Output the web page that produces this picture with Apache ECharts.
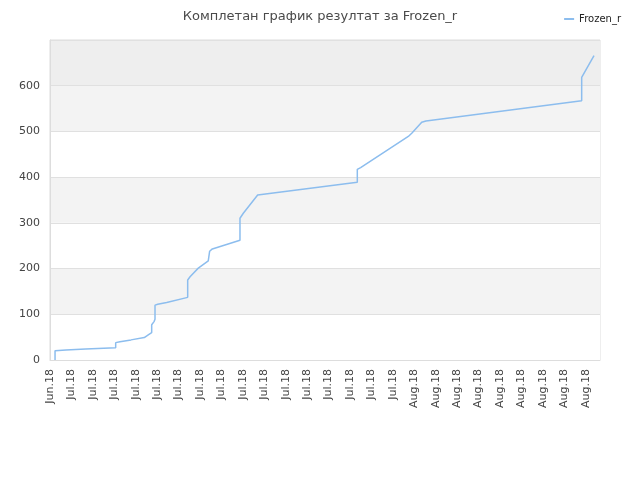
<!DOCTYPE html>
<html>
<head>
<meta charset="utf-8">
<script src="https://cdn.jsdelivr.net/npm/echarts@6/dist/echarts.min.js"></script>
<style>html,body{margin:0;padding:0;background:#fff}#c{width:640px;height:480px}</style>
</head>
<body>
<div id="c"></div>
<script>
// x tick labels (every 2 days starting Jun 29, 2018)
var tickLabels = ["Jun.18","Jul.18","Jul.18","Jul.18","Jul.18","Jul.18","Jul.18","Jul.18","Jul.18","Jul.18","Jul.18","Jul.18","Jul.18","Jul.18","Jul.18","Jul.18","Jul.18","Aug.18","Aug.18","Aug.18","Aug.18","Aug.18","Aug.18","Aug.18","Aug.18","Aug.18"];
// days since first tick
var days = [0.47,0.47,1.49,3.33,6.13,6.13,6.53,7.56,8.80,9.17,9.49,9.49,9.71,9.80,9.80,10.05,10.89,12.85,12.85,13.07,13.84,14.77,14.90,15.15,17.73,17.73,18.04,19.38,28.68,28.68,28.99,33.44,33.76,34.69,35.09,49.62,49.62,49.77,50.77];
var scores = [0,20,22,24,27,38,40,44,49,55,60,77,84,89,120,122,126,137,175,182,201,217,238,243,262,310,321,361,389,417,421,489,496,520,523,567,618,622,666];
var seriesName = "Frozen_r";

var data = days.map(function(d, i){ return [d, scores[i]]; });
var chart = echarts.init(document.getElementById('c'));
chart.setOption({
  animation: false,
  backgroundColor: '#fff',
  title: {
    text: 'Комплетан график резултат за Frozen_r',
    left: 'center', top: 5,
    textStyle: {fontFamily: 'DejaVu Sans', fontSize: 13, fontWeight: 'normal', color: '#4a4a4a'}
  },
  legend: {
    right: 14, top: 9,
    itemWidth: 10, itemHeight: 2, itemGap: 5,
    icon: 'rect',
    textStyle: {fontFamily: 'DejaVu Sans', fontSize: 10, color: '#222'},
    data: [seriesName]
  },
  grid: {left: 50, right: 40, top: 40, bottom: 120, show: true, borderColor: '#ddd', borderWidth: 1},
  xAxis: {
    type: 'value', min: 0, max: 51.33, interval: 2,
    axisLine: {show: true, lineStyle: {color: '#ddd'}},
    axisTick: {show: false},
    splitLine: {show: false},
    axisLabel: {
      rotate: 90, fontFamily: 'DejaVu Sans', fontSize: 11, color: '#444', margin: 9,
      showMaxLabel: false,
      formatter: function(v){ var i = Math.round(v/2); return (Math.abs(v - i*2) < 1e-6 && tickLabels[i]) ? tickLabels[i] : ''; }
    }
  },
  yAxis: {
    type: 'value', min: 0, max: 700, interval: 100,
    axisLine: {show: true, lineStyle: {color: '#ddd'}},
    axisTick: {show: false},
    splitLine: {show: true, lineStyle: {color: '#e0e0e0'}},
    splitArea: {show: true, areaStyle: {color: ['#ffffff','#f3f3f3','#ffffff','#f3f3f3','#ffffff','#f3f3f3','#eeeeee']}},
    axisLabel: {
      fontFamily: 'DejaVu Sans', fontSize: 11, color: '#444', margin: 10,
      formatter: function(v){ return v === 700 ? '' : String(v); }
    }
  },
  series: [{
    name: seriesName, type: 'line', data: data, showSymbol: false, symbol: 'none',
    lineStyle: {color: '#8cbdee', width: 1.5},
    itemStyle: {color: '#8cbdee'}
  }]
});
</script>
</body>
</html>
